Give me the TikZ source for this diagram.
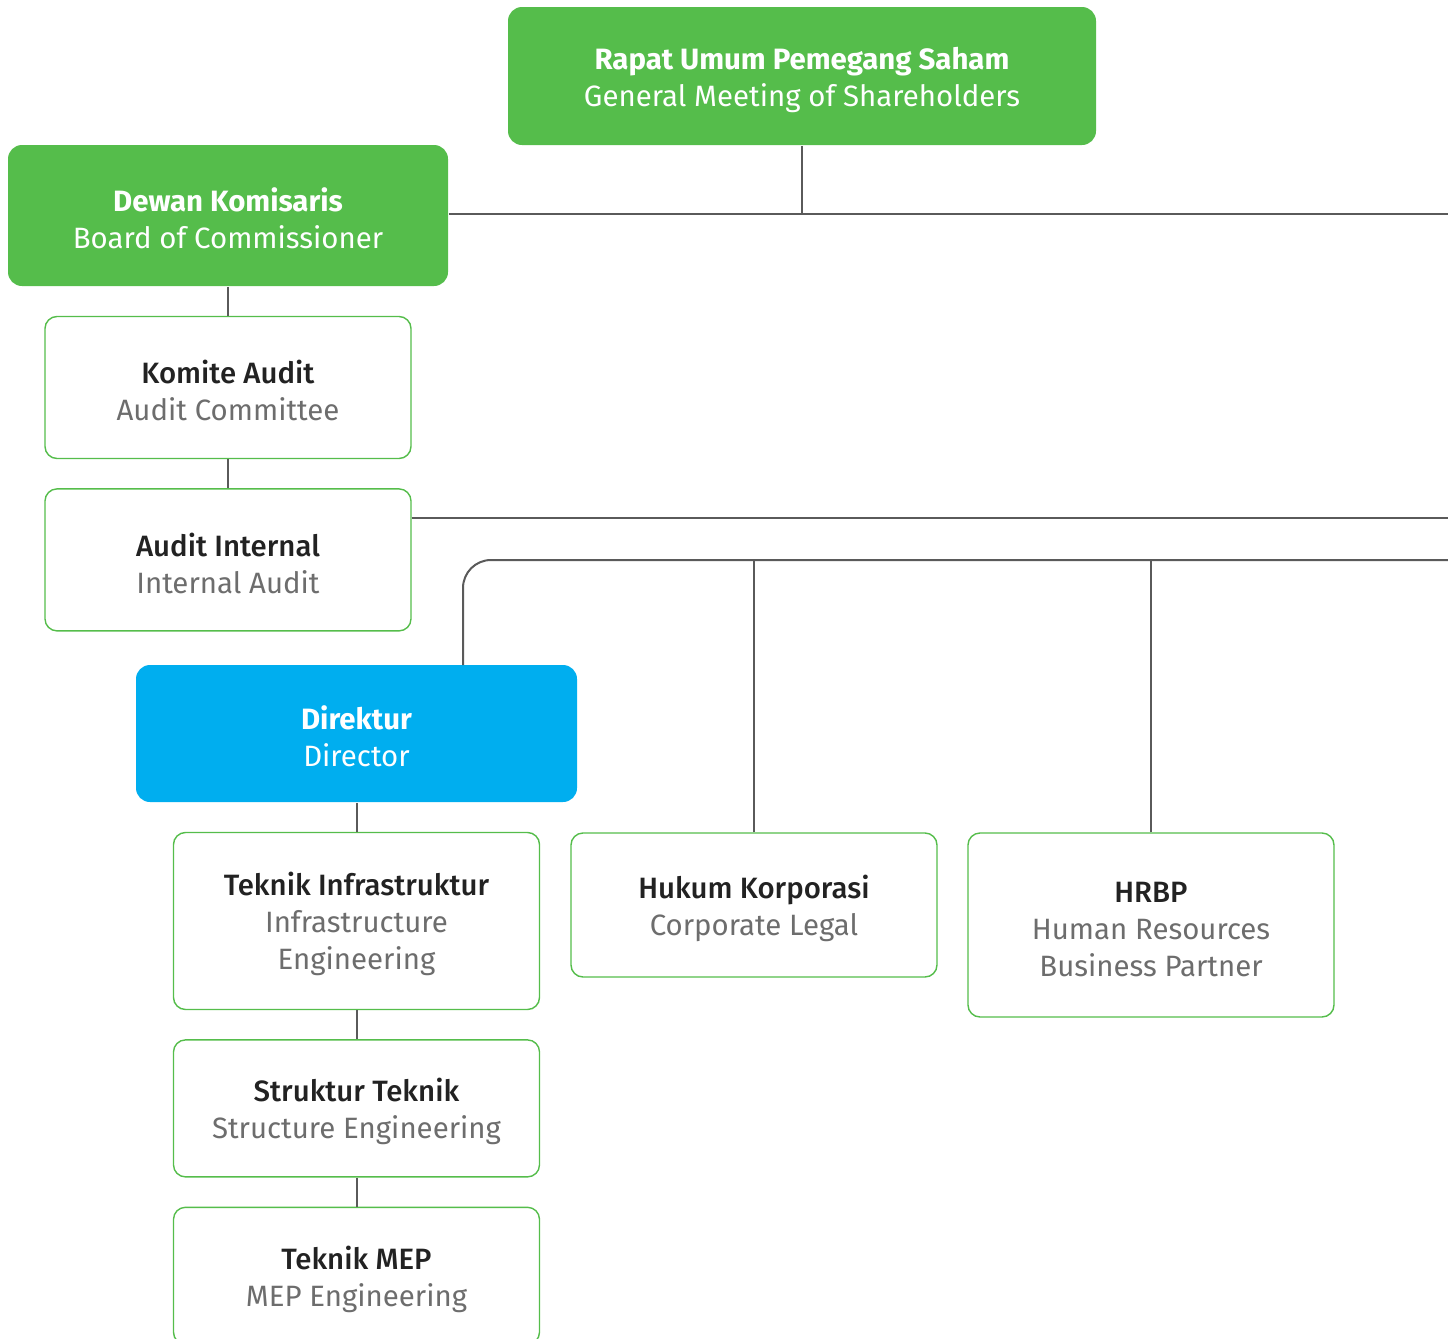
\documentclass[tikz,border=0pt]{standalone}
\usepackage{fontspec}
\setmainfont{Fira Sans}
\newfontfamily\mediumfont{Fira Sans Medium}
\usetikzlibrary{positioning}
\definecolor{orggreen}{HTML}{55BD4B}
\definecolor{orgblue}{HTML}{00AEEF}
\definecolor{linegray}{HTML}{5A5A5A}
\definecolor{titlegray}{HTML}{222222}
\definecolor{subgray}{HTML}{6D6D6D}
% titles sit a little low in their boxes
\newcommand{\unittitle}[1]{\rule{0pt}{15pt}{\mediumfont\color{titlegray}#1}}
\newcommand{\headtitle}[1]{\rule{0pt}{15pt}\textbf{#1}}

\begin{document}
\begin{tikzpicture}[x=0.5pt,y=-0.5pt,thick,node distance=14.5pt,
 head/.style={rectangle,rounded corners=7pt,fill=orggreen,text=white,align=center,font=\fontsize{14.7}{18.5}\selectfont},
 unit/.style={rectangle,rounded corners=6pt,draw=orggreen,line width=0.7pt,fill=white,text=subgray,align=center,minimum width=183pt,font=\fontsize{14.7}{18.5}\selectfont},
 conn/.style={draw=linegray,line width=1pt}]
 \useasboundingbox (0,0) rectangle (1448,1339);

 % top level
 \node[head,minimum width=294pt,minimum height=69pt] (rups) at (802,76) {\headtitle{Rapat Umum Pemegang Saham}\\General Meeting of Shareholders};
 \node[head,minimum width=220pt,minimum height=70.5pt] (dewan) at (228,215.5) {\headtitle{Dewan Komisaris}\\Board of Commissioner};
 \node[unit,minimum height=71pt] (komite) [below=of dewan] {\unittitle{Komite Audit}\\Audit Committee};
 \node[unit,minimum height=71pt] (internal) [below=of komite] {\unittitle{Audit Internal}\\Internal Audit};

 % director and units
 \node[head,fill=orgblue,minimum width=220.5pt,minimum height=68.5pt] (direktur) at (356.5,733.5) {\headtitle{Direktur}\\Director};
 \node[unit,minimum height=88.5pt] (infra) [below=of direktur] {\unittitle{Teknik Infrastruktur}\\Infrastructure\\Engineering};
 \node[unit,minimum height=68.5pt] (struktur) [below=of infra] {\unittitle{Struktur Teknik}\\Structure Engineering};
 \node[unit,minimum height=68.5pt] (mep) [below=of struktur] {\unittitle{Teknik MEP}\\MEP Engineering};
 \node[unit,minimum height=72pt] (hukum) at (754,905) {\unittitle{Hukum Korporasi}\\Corporate Legal};
 \node[unit,minimum height=92pt] (hrbp) at (1151,925) {\unittitle{HRBP}\\Human Resources\\Business Partner};

 % free ends of the buses
 \coordinate (busA) at (1448,214);
 \coordinate (busB) at (1448,518);
 \coordinate (busC) at (1448,560);
 \coordinate (dirknee) at (463,665);

 % connectors
 \draw[conn] (rups.south) -- (rups.south |- busA);
 \draw[conn] (dewan.east |- busA) -- (busA);
 \draw[conn] (dewan.south) -- (komite.north);
 \draw[conn] (komite.south) -- (internal.north);
 \draw[conn] (internal.east |- busB) -- (busB);
 \draw[conn,rounded corners=14pt] (busC) -- (busC -| dirknee) -- (dirknee);
 \draw[conn] (hukum.north) -- (hukum.north |- busC);
 \draw[conn] (hrbp.north) -- (hrbp.north |- busC);
 \draw[conn] (direktur.south) -- (infra.north);
 \draw[conn] (infra.south) -- (struktur.north);
 \draw[conn] (struktur.south) -- (mep.north);
\end{tikzpicture}
\end{document}
